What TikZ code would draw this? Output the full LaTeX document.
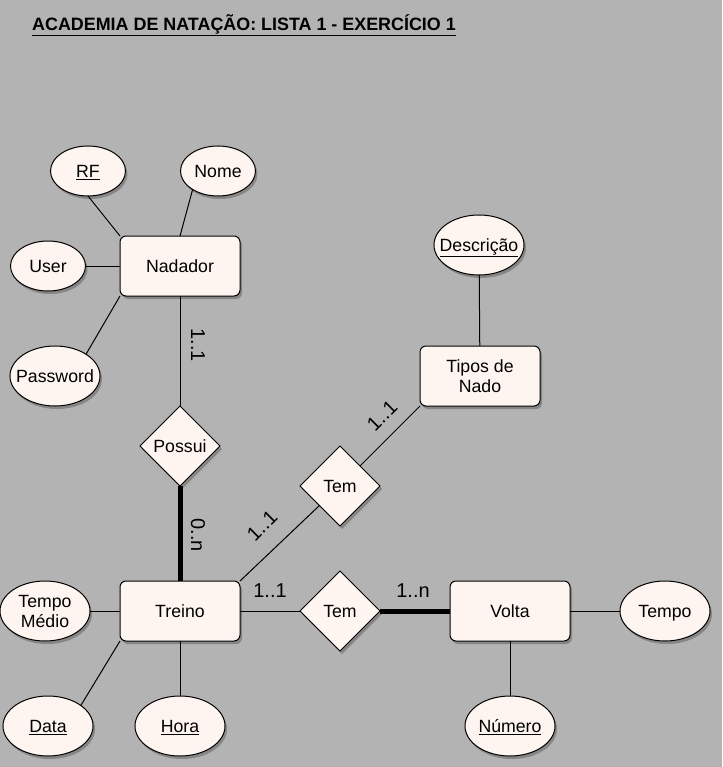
\documentclass[tikz,border=0pt]{standalone}
\usepackage{fontspec}
\setmainfont{Liberation Sans}
\usetikzlibrary{shapes.geometric,shadows}
\definecolor{fundo}{HTML}{B3B3B3}
\definecolor{creme}{HTML}{FEF5F0}
\tikzset{
  sombra/.style={drop shadow={shadow xshift=2pt,shadow yshift=-3pt,opacity=0.25,fill=black}},
  entidade/.style={draw,fill=creme,line width=1pt,rounded corners=6pt,minimum width=120pt,minimum height=60pt,inner sep=0pt,outer sep=0pt,align=center,sombra},
  atributo/.style={draw,fill=creme,line width=1pt,ellipse,inner sep=0pt,outer sep=0pt,minimum width=90pt,minimum height=60pt,sombra},
  relacao/.style={draw,fill=creme,line width=1pt,diamond,inner sep=0pt,outer sep=0pt,minimum width=80pt,minimum height=80pt,sombra},
  ligacao/.style={line width=1pt},
  forte/.style={line width=5pt},
  card/.style={inner sep=0pt,font=\fontsize{20}{22}\selectfont},
  every label/.style={align=center,inner sep=0pt,text height=13pt,text depth=0pt},
}
\begin{document}
\begin{tikzpicture}[x=1pt,y=-1pt,font=\fontsize{17.7}{20}\selectfont]
      % fundo
      \fill[fundo] (0,0) rectangle (722,767);
      \useasboundingbox (0,0) rectangle (722,767);
      % titulo
      \node[anchor=west,inner sep=0pt,font=\fontsize{17.9}{20}\selectfont\bfseries] (titulo) at (32,25)
        {\underline{ACADEMIA DE NATAÇÃO: LISTA 1 - EXERCÍCIO 1}};
      % Nadador e atributos
      \node[entidade] (Nadador) at (180,266) {Nadador};
      \node[atributo,minimum width=75pt,minimum height=50pt,label=center:{\underline{RF}}] (RF) at (88,171) {};
      \node[atributo,minimum width=75pt,minimum height=50pt,label=center:Nome] (Nome) at (218,171) {};
      \node[atributo,minimum width=75pt,minimum height=50pt,label=center:User] (User) at (48,266) {};
      \node[atributo,label=center:Password] (Password) at (55,376) {};
      % Tipos de Nado
      \node[atributo,label=center:{\underline{Descrição}}] (Descricao) at (479,245) {};
      \node[entidade] (Tipos) at (480,376) {Tipos de\\Nado};
      % relacoes
      \node[relacao] (Possui) at (180,446) {Possui};
      \node[relacao] (TemTipo) at (340,486) {Tem};
      \node[relacao] (TemVolta) at (340,611) {Tem};
      % Treino e atributos
      \node[entidade] (Treino) at (180,611) {Treino};
      \node[atributo,label={[text height=,text depth=]center:{Tempo\\Médio}}] (TempoMedio) at (45,611) {};
      \node[atributo,label=center:{\underline{Data}}] (Data) at (48,726) {};
      \node[atributo,label=center:{\underline{Hora}}] (Hora) at (180,726) {};
      % Volta e atributos
      \node[entidade] (Volta) at (510,611) {Volta};
      \node[atributo,label=center:Tempo] (Tempo) at (665,611) {};
      \node[atributo,label=center:{\underline{Número}}] (Numero) at (510,726) {};
      % ligacoes dos atributos
      \draw[ligacao] (RF.south) -- (Nadador.north west);
      \draw[ligacao] (Nome.216) -- (Nadador.north);
      \draw[ligacao] (User) -- (Nadador);
      \draw[ligacao] (Password.35) -- (Nadador.south west);
      \draw[ligacao] (Descricao) -- (Tipos);
      \draw[ligacao] (TempoMedio) -- (Treino);
      \draw[ligacao] (Data.32) -- (Treino.south west);
      \draw[ligacao] (Hora) -- (Treino);
      \draw[ligacao] (Tempo) -- (Volta);
      \draw[ligacao] (Numero) -- (Volta);
      % ligacoes das relacoes
      \draw[ligacao] (Nadador) -- (Possui);
      \draw[forte] (Possui) -- (Treino);
      \draw[ligacao] (Treino.north east) -- (TemTipo);
      \draw[ligacao] (TemTipo) -- (Tipos.south west);
      \draw[ligacao] (Treino) -- (TemVolta);
      \draw[forte] (TemVolta) -- (Volta);
      % cardinalidades
      \node[card,rotate=-90] (c1) at (198,345) {1..1};
      \node[card,rotate=-90] (c2) at (198,535) {0..n};
      \node[card,rotate=45] (c3) at (262,526) {1..1};
      \node[card,rotate=45] (c4) at (382,416) {1..1};
      \node[card] (c5) at (270,591) {1..1};
      \node[card] (c6) at (413,591) {1..n};
\end{tikzpicture}
\end{document}
